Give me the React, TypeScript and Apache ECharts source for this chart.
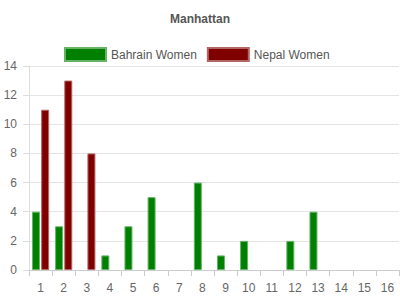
import React, { useEffect, useRef } from "react";
import * as echarts from "echarts";

const categories = ["1", "2", "3", "4", "5", "6", "7", "8", "9", "10", "11", "12", "13", "14", "15", "16"];
const bahrainWomen = [4, 3, 0, 1, 3, 5, 0, 6, 1, 2, 0, 2, 4, 0, 0, 0];
const nepalWomen = [11, 13, 8, 0, 0, 0, 0, 0, 0, 0, 0, 0, 0, 0, 0, 0];

const toItems = (arr: number[]) =>
  arr.map((v) => (v === 0 ? { value: v, itemStyle: { borderWidth: 0, opacity: 0 } } : v));

export default function App() {
  const ref = useRef<HTMLDivElement>(null);
  useEffect(() => {
    if (!ref.current) return;
    const chart = echarts.init(ref.current, undefined, { renderer: "svg" });
    const font = "'Liberation Sans', Arial, sans-serif";
    chart.setOption({
      animation: false,
      textStyle: { fontFamily: font },
      title: {
        text: "Manhattan",
        left: "center",
        top: 8,
        textStyle: { fontSize: 12, fontWeight: "bold", color: "#555", fontFamily: font },
      },
      legend: {
        top: 42,
        left: 59,
        icon: "rect",
        itemWidth: 41,
        itemHeight: 13,
        itemGap: 10,
        textStyle: { fontSize: 12, color: "#555", fontFamily: font },
        data: ["Bahrain Women", "Nepal Women"],
      },
      grid: { left: 29, right: 1, top: 66, bottom: 30, containLabel: false },
      xAxis: {
        type: "category",
        data: categories,
        axisLine: { show: true, lineStyle: { color: "#ccc" } },
        axisTick: { show: true, length: 6, lineStyle: { color: "#ccc" } },
        axisLabel: { color: "#666", fontSize: 12, margin: 12, fontFamily: font },
        splitLine: { show: false },
      },
      yAxis: {
        type: "value",
        min: 0,
        max: 14,
        interval: 2,
        axisLine: { show: true, lineStyle: { color: "#ddd" } },
        axisTick: { show: true, length: 6, lineStyle: { color: "#ddd" } },
        axisLabel: { color: "#666", fontSize: 12, margin: 12, fontFamily: font },
        splitLine: { show: true, lineStyle: { color: "#e4e4e4" } },
      },
      series: [
        {
          name: "Bahrain Women",
          type: "bar",
          data: toItems(bahrainWomen),
          barWidth: 8,
          barGap: "15%",
          itemStyle: { color: "#008000", borderColor: "#66b366", borderWidth: 1 },
        },
        {
          name: "Nepal Women",
          type: "bar",
          data: toItems(nepalWomen),
          barWidth: 8,
          barGap: "15%",
          itemStyle: { color: "#800000", borderColor: "#b36666", borderWidth: 1 },
        },
      ],
    });
    return () => chart.dispose();
  }, []);
  return <div ref={ref} style={{ width: 400, height: 300, position: "absolute", left: 0, top: 0 }} />;
}
